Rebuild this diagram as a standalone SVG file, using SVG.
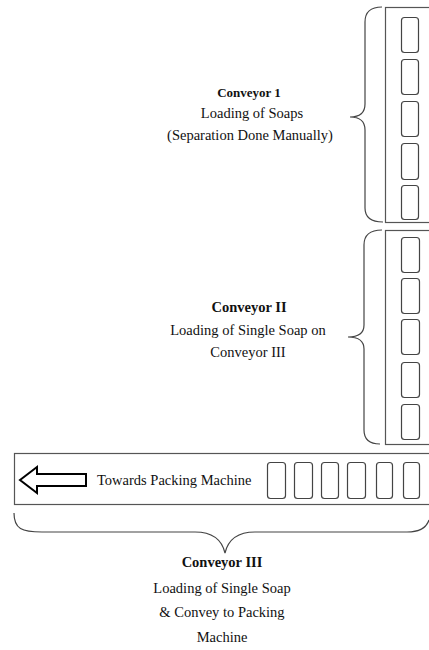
<svg xmlns="http://www.w3.org/2000/svg" width="429" height="650" viewBox="0 0 429 650">
<style>
.belt{fill:#fff;stroke:#555;stroke-width:1.2}
.soap{fill:#fff;stroke:#444;stroke-width:1.2}
.brace{fill:none;stroke:#444;stroke-width:1.2}
.t{font-family:"Liberation Serif","Times New Roman",serif;font-size:14.5px;fill:#111;text-anchor:middle}
.b{font-weight:bold}
</style>
<rect x="0" y="0" width="429" height="650" fill="#fff"/>
<g id="conveyor1">
<rect class="belt" x="385.5" y="7.5" width="60" height="215"/>
<rect class="soap" x="401.5" y="17.5" width="17" height="35" rx="3"/>
<rect class="soap" x="401.5" y="59.5" width="17" height="35" rx="3"/>
<rect class="soap" x="401.5" y="101.5" width="17" height="35" rx="3"/>
<rect class="soap" x="401.5" y="143.5" width="17" height="36" rx="3"/>
<rect class="soap" x="401.5" y="185.5" width="17" height="34" rx="3"/>
</g>
<g id="conveyor2">
<rect class="belt" x="385.5" y="230.5" width="60" height="214"/>
<rect class="soap" x="401.5" y="237.5" width="18" height="35" rx="3"/>
<rect class="soap" x="401.5" y="278.5" width="18" height="35" rx="3"/>
<rect class="soap" x="401.5" y="319.5" width="18" height="35" rx="3"/>
<rect class="soap" x="401.5" y="362.5" width="18" height="35" rx="3"/>
<rect class="soap" x="401.5" y="404.5" width="18" height="35" rx="3"/>
</g>
<g id="conveyor3">
<rect class="belt" x="14.5" y="453.5" width="430" height="51"/>
<rect class="soap" x="267.5" y="462.5" width="18" height="36" rx="3"/>
<rect class="soap" x="294.5" y="462.5" width="18" height="36" rx="3"/>
<rect class="soap" x="321.5" y="462.5" width="17" height="36" rx="3"/>
<rect class="soap" x="347.5" y="462.5" width="18" height="36" rx="3"/>
<rect class="soap" x="376.5" y="462.5" width="16" height="36" rx="3"/>
<rect class="soap" x="403.5" y="462.5" width="16" height="36" rx="3"/>
<text class="t" x="97" y="485" style="text-anchor:start">Towards Packing Machine</text>
</g>
<g id="arrow">
<polygon points="20,480 37,467 37,474 86,474 86,486 37,486 37,493" fill="#fff" stroke="#000" stroke-width="2" stroke-linejoin="miter"/>
</g>
<g id="connectors">
<path class="brace" d="M382,7 Q365,7 365,22 L365,104 Q365,117 350,117 Q365,117 365,130 L365,208 Q365,222 383,222"/>
<path class="brace" d="M382,230 Q364,230 364,245 L364,325 Q364,337 348,337 Q364,337 364,349 L364,430 Q364,444 380,444"/>
<path class="brace" d="M14,513 C14,529 22,532 42,532 L195,532 Q220,532 225,553 Q230,532 255,532 L407,532 Q425,532 429,520"/>
</g>
<g id="label1">
<text class="t b" x="249" y="97" style="font-size:13px">Conveyor 1</text>
<text class="t" x="252" y="118">Loading of Soaps</text>
<text class="t" x="250" y="140">(Separation Done Manually)</text>
</g>
<g id="label2">
<text class="t b" x="249" y="312">Conveyor II</text>
<text class="t" x="248" y="335">Loading of Single Soap on</text>
<text class="t" x="248" y="357">Conveyor III</text>
</g>
<g id="label3">
<text class="t b" x="222" y="567">Conveyor III</text>
<text class="t" x="222" y="593">Loading of Single Soap</text>
<text class="t" x="222" y="617">&amp; Convey to Packing</text>
<text class="t" x="222" y="642">Machine</text>
</g>
</svg>
